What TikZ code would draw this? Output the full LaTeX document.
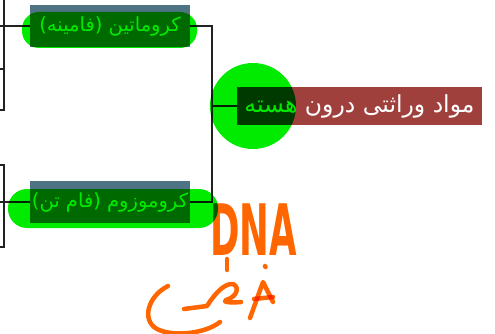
\documentclass[tikz,border=0pt]{standalone}
\usepackage{fontspec}
\newfontfamily\arabicfont[Script=Arabic]{DejaVu Sans}
\TeXXeTstate=1
\usetikzlibrary{positioning,calc}
\definecolor{MapSlate}{RGB}{78,116,132}
\definecolor{MapBrick}{RGB}{160,64,60}
\definecolor{MapLine}{RGB}{34,34,34}
\definecolor{PenGreen}{RGB}{0,235,0}
\definecolor{PenOrange}{RGB}{255,102,0}
\tikzset{
    % Base node style
    basenode/.style={
        inner sep=0pt,
        outer sep=0pt,
        text=white,
        align=center,
        font=\arabicfont\fontsize{19.5}{21}\selectfont
    },
    % Sub topic
    topicnode/.style={
        basenode,
        fill=MapSlate,
        minimum width=160pt,
        minimum height=42pt
    },
    % Central topic
    hubnode/.style={
        basenode,
        fill=MapBrick,
        minimum width=245pt,
        minimum height=38pt,
        font=\arabicfont\fontsize{23.5}{25}\selectfont
    },
    % Connector (straight lines only)
    maplink/.style={
        draw=MapLine,
        line width=1.3pt
    },
    % Highlighter blob
    penmark/.style={
        fill=PenGreen
    },
    % Handwritten stroke
    penstroke/.style={
        draw=PenOrange,
        line width=4.5pt,
        line cap=round,
        line join=round
    }
}

\begin{document}
\begin{tikzpicture}[x=1pt, y=-1pt]
        \useasboundingbox (0,0) rectangle (495,334);
        \fill[white] (0,0) rectangle (495,334);

        % Topics
        \node[hubnode] (nucleus) at (359.5,106) {\beginR مواد وراثتی درون هسته\endR};
        \node[topicnode] (chromatin) at (110,26) {\beginR کروماتین (فامینه)\endR};
        \node[topicnode] (chromosome) at (110,202) {\beginR کروموزوم (فام تن)\endR};

        % Forks
        \coordinate (hubfork) at (212,106);
        \coordinate (chromatinfork) at (4,26);
        \coordinate (chromosomefork) at (4,202);

        % Leaves cut off at the left edge
        \coordinate (leafA) at (0,-8);
        \coordinate (leafB) at (0,26);
        \coordinate (leafC) at (0,69);
        \coordinate (leafD) at (0,110);
        \coordinate (leafE) at (0,165);
        \coordinate (leafF) at (0,202);
        \coordinate (leafG) at (0,247);

        % Connectors
        \draw[maplink] (nucleus.west) -- (hubfork);
        \draw[maplink] (hubfork) |- (chromatin.east);
        \draw[maplink] (hubfork) |- (chromosome.east);

        \draw[maplink] (chromatin.west) -- (leafB);
        \draw[maplink] (chromatinfork) |- (leafA);
        \draw[maplink] (chromatinfork) |- (leafC);
        \draw[maplink] (chromatinfork) |- (leafD);

        \draw[maplink] (chromosome.west) -- (leafF);
        \draw[maplink] (chromosomefork) |- (leafE);
        \draw[maplink] (chromosomefork) |- (leafG);

        % Highlighter and handwriting on top
        \begin{scope}[blend mode=multiply]
            \fill[penmark, rounded corners=17pt] (22,12) rectangle (197,48);
            \fill[penmark, rounded corners=19pt] (8,189) rectangle (218,228);
            \fill[penmark] (253,106) circle (43);

            \node[text=PenOrange, inner sep=0pt, anchor=south west, xscale=0.5,
                  font=\fontspec{DejaVu Sans Bold}\fontsize{71}{71}\selectfont] (dnanote) at (210,256) {DNA};

            \draw[penstroke] (227,259) -- (227,270);
            \draw[penstroke] (265,266) -- (265.5,267);
            \draw[penstroke] (168,286) .. controls (148,296) and (141,320) .. (157,329)
                .. controls (172,337) and (205,334) .. (220,322);
            \draw[penstroke] (184,309) -- (207,306) .. controls (215,293) and (225,283) .. (233,284)
                .. controls (240,287) and (237,297) .. (226,300) .. controls (222,302) and (230,303) .. (241,302);
            \draw[penstroke] (250,318) -- (263,282) -- (273,302);
            \draw[penstroke] (254,299) -- (273,297);
        \end{scope}
    \end{tikzpicture}
\end{document}
